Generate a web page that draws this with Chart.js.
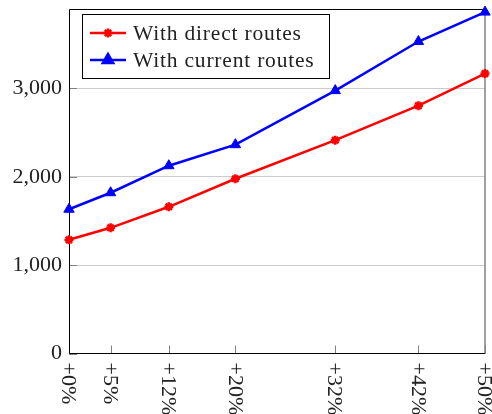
<!DOCTYPE html>
<html>
<head>
<meta charset="utf-8">
<script src="https://cdn.jsdelivr.net/npm/chart.js@4.4.1/dist/chart.umd.min.js"></script>
<style>
  html, body { margin: 0; padding: 0; background: #fff; }
  canvas { display: block; }
</style>
</head>
<body>
<canvas id="routesChart" width="492" height="414"></canvas>
<script>
// data
const xValues = [0, 5, 12, 20, 32, 42, 50];
const xTickLabels = ['+0%', '+5%', '+12%', '+20%', '+32%', '+42%', '+50%'];
const directRoutes = [1287, 1423, 1661, 1978, 2415, 2806, 3169];
const currentRoutes = [1633, 1820, 2126, 2364, 2976, 3532, 3865];
const yTicks = [0, 1000, 2000, 3000];
const seriesNames = ['With direct routes', 'With current routes'];

const SERIF = '"Liberation Serif", "DejaVu Serif", serif';
const toPoints = vals => vals.map((v, i) => ({ x: xValues[i], y: v }));

// frame + inward tick marks, pgfplots style
const framePlugin = {
    id: 'frame',
    beforeDatasetsDraw(chart) {
        const { ctx, chartArea: a, scales } = chart;
        ctx.save();
        ctx.strokeStyle = '#808080';
        ctx.lineWidth = 1;
        xValues.forEach(v => {
            const x = Math.round(scales.x.getPixelForValue(v)) + 0.5;
            ctx.beginPath();
            ctx.moveTo(x, a.bottom);
            ctx.lineTo(x, a.bottom - 8);
            ctx.stroke();
        });
        yTicks.forEach(v => {
            const y = Math.round(scales.y.getPixelForValue(v)) + 0.5;
            ctx.beginPath();
            ctx.moveTo(a.left, y);
            ctx.lineTo(a.left + 8, y);
            ctx.stroke();
        });
        // right edge is grey in the reference
        ctx.lineWidth = 1.5;
        ctx.beginPath();
        ctx.moveTo(a.right, a.top);
        ctx.lineTo(a.right, a.bottom);
        ctx.stroke();
        ctx.strokeStyle = '#000';
        ctx.lineWidth = 1;
        ctx.beginPath();
        ctx.moveTo(a.right, a.top + 0.5);
        ctx.lineTo(a.left + 0.5, a.top + 0.5);
        ctx.lineTo(a.left + 0.5, a.bottom);
        ctx.lineTo(a.right, a.bottom);
        ctx.stroke();
        ctx.restore();
    },
    afterDraw(chart) {
        const { ctx, chartArea: a, scales } = chart;
        ctx.save();
        // rotated x tick labels, reading downwards
        ctx.fillStyle = '#222';
        ctx.font = '22px ' + SERIF;
        ctx.textAlign = 'left';
        ctx.textBaseline = 'middle';
        xValues.forEach((v, i) => {
            const x = scales.x.getPixelForValue(v);
            ctx.save();
            ctx.translate(x - 1, a.bottom + 9);
            ctx.rotate(Math.PI / 2);
            ctx.fillText(xTickLabels[i], 0, 0);
            ctx.restore();
        });

        // legend box
        const box = { x: 82.5, y: 14.5, w: 247, h: 64 };
        ctx.fillStyle = '#fff';
        ctx.fillRect(box.x, box.y, box.w, box.h);
        ctx.strokeStyle = '#000';
        ctx.lineWidth = 1;
        ctx.strokeRect(box.x, box.y, box.w, box.h);
        chart.data.datasets.forEach((ds, i) => {
            const y = 33 + i * 27;
            ctx.strokeStyle = ds.borderColor;
            ctx.fillStyle = ds.borderColor;
            ctx.lineWidth = ds.borderWidth;
            ctx.beginPath();
            ctx.moveTo(90, y);
            ctx.lineTo(126, y);
            ctx.stroke();
            Chart.helpers.drawPoint(ctx, {
                pointStyle: ds.pointStyle,
                radius: ds.pointRadius,
                borderWidth: ds.pointBorderWidth,
                rotation: 0
            }, 108, y);
            ctx.fillStyle = '#222';
            ctx.font = '21.5px ' + SERIF;
            ctx.letterSpacing = '0.8px';
            ctx.textBaseline = 'middle';
            ctx.fillText(ds.label, 133, y + 1);
            ctx.letterSpacing = '0px';
        });
        ctx.restore();
    }
};

new Chart(document.getElementById('routesChart'), {
    type: 'line',
    data: {
        datasets: [
            {
                label: seriesNames[0],
                data: toPoints(directRoutes),
                borderColor: '#ff0000',
                backgroundColor: '#ff0000',
                borderWidth: 2.5,
                pointStyle: 'star',
                pointRadius: 4.5,
                pointBorderWidth: 2.5,
                tension: 0,
                clip: false
            },
            {
                label: seriesNames[1],
                data: toPoints(currentRoutes),
                borderColor: '#0000ff',
                backgroundColor: '#0000ff',
                borderWidth: 2.5,
                pointStyle: 'triangle',
                pointRadius: 6,
                pointBorderWidth: 1,
                tension: 0,
                clip: false
            }
        ]
    },
    options: {
        responsive: false,
        animation: false,
        layout: { padding: { top: 9, right: 7, left: 0, bottom: 0 } },
        plugins: {
            legend: { display: false },
            tooltip: { enabled: false }
        },
        scales: {
            x: {
                type: 'linear',
                min: 0,
                max: 50,
                afterBuildTicks: s => { s.ticks = xValues.map(v => ({ value: v })); },
                afterFit: s => { s.height = 60.5; s.paddingLeft = 0; s.paddingRight = 0; },
                ticks: { display: false },
                grid: { display: false },
                border: { display: false }
            },
            y: {
                min: 0,
                max: 3900,
                afterBuildTicks: s => { s.ticks = yTicks.map(v => ({ value: v })); },
                afterFit: s => { s.width = 69; s.paddingTop = 0; s.paddingBottom = 0; },
                ticks: {
                    color: '#222',
                    padding: 7,
                    font: { family: SERIF, size: 22 },
                    callback: v => v.toLocaleString('en-US')
                },
                grid: { color: '#cccccc', lineWidth: 1, drawTicks: false },
                border: { display: false }
            }
        }
    },
    plugins: [framePlugin]
});
</script>
</body>
</html>
